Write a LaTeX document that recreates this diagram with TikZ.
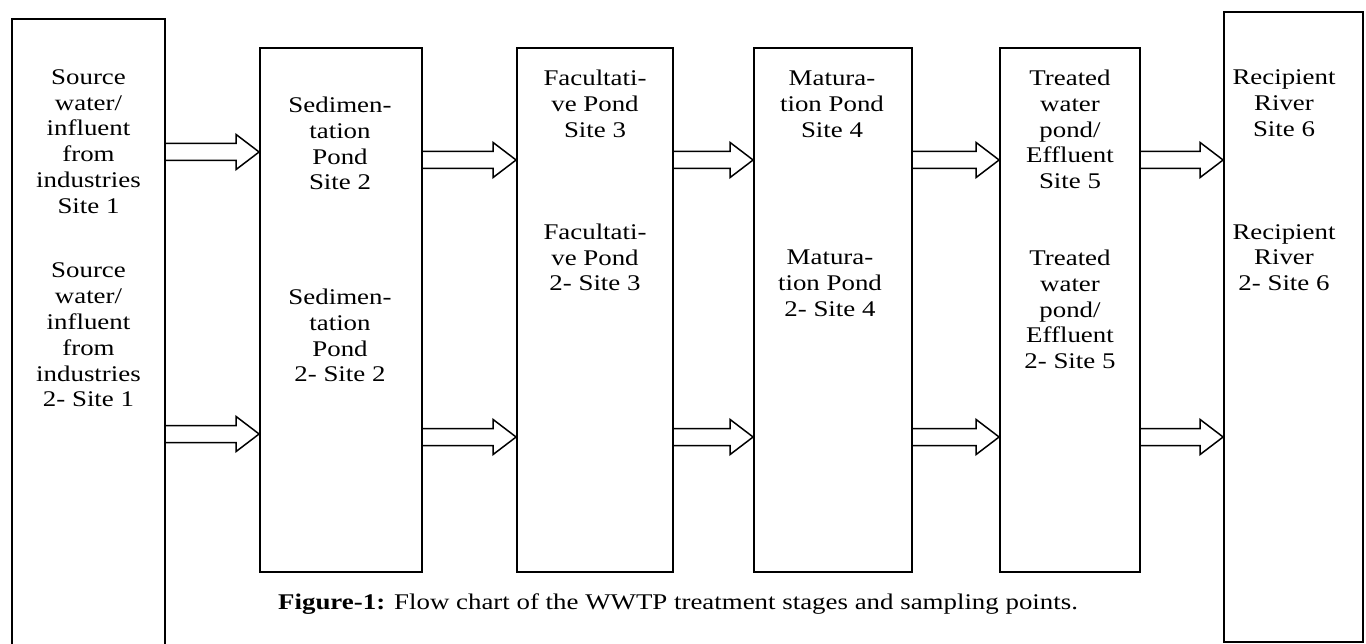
\documentclass[tikz,border=0pt]{standalone}
\usepackage{fontspec}
\setmainfont{Liberation Serif}[FakeStretch=1.2]
\usetikzlibrary{calc}

\tikzset{
  stage/.style={draw, line width=1.8pt, rectangle, inner sep=0pt},
  sitetext/.style={align=center, font=\fontsize{22.4}{25.8}\selectfont, inner sep=0pt},
  flow/.style={draw, line width=1.5pt, line join=miter},
}

% hollow block arrow from box #1 to box #2 at height #3
\newcommand{\flowarrow}[3]{%
  \coordinate (fa) at (#1.east |- 0,#3);
  \coordinate (fb) at (#2.west |- 0,#3);
  \draw[flow] ($(fa)+(0,-8.5)$) -- ($(fb)+(-23,-8.5)$) -- ($(fb)+(-23,-17.5)$) -- (fb)
    -- ($(fb)+(-23,17.5)$) -- ($(fb)+(-23,8.5)$) -- ($(fa)+(0,8.5)$);
}

\begin{document}
\begin{tikzpicture}[x=1pt, y=-1pt]
\useasboundingbox (0,0) rectangle (1366,644);
\clip (0,0) rectangle (1366,644);

% stages
\node[stage, minimum width=153, minimum height=641] (src) at (88.5,339.5) {};
\node[stage, minimum width=162, minimum height=524] (sed) at (341,310) {};
\node[stage, minimum width=156, minimum height=524] (fac) at (595,310) {};
\node[stage, minimum width=158, minimum height=524] (mat) at (833,310) {};
\node[stage, minimum width=140, minimum height=524] (trt) at (1070,310) {};
\node[stage, minimum width=139, minimum height=630] (riv) at (1293.5,327) {};

% sampling sites
\node[sitetext] (src1) at (88.5,141.5) {Source\\water/\\influent\\from\\industries\\Site 1};
\node[sitetext] (src2) at (88.5,335) {Source\\water/\\influent\\from\\industries\\2- Site 1};
\node[sitetext] (sed1) at (340,143.5) {Sedimen-\\tation\\Pond\\Site 2};
\node[sitetext] (sed2) at (340,335.5) {Sedimen-\\tation\\Pond\\2- Site 2};
\node[sitetext] (fac1) at (595,104) {Facultati-\\ve Pond\\Site 3};
\node[sitetext] (fac2) at (595,257.5) {Facultati-\\ve Pond\\2- Site 3};
\node[sitetext] (mat1) at (832,104) {Matura-\\tion Pond\\Site 4};
\node[sitetext] (mat2) at (830,283.5) {Matura-\\tion Pond\\2- Site 4};
\node[sitetext] (trt1) at (1070,129.5) {Treated\\water\\pond/\\Effluent\\Site 5};
\node[sitetext] (trt2) at (1070,309.5) {Treated\\water\\pond/\\Effluent\\2- Site 5};
\node[sitetext] (riv1) at (1284,103) {Recipient\\River\\Site 6};
\node[sitetext] (riv2) at (1284,257.5) {Recipient\\River\\2- Site 6};

% flows
\flowarrow{src}{sed}{152}
\flowarrow{src}{sed}{434}
\flowarrow{sed}{fac}{160}
\flowarrow{sed}{fac}{437}
\flowarrow{fac}{mat}{160}
\flowarrow{fac}{mat}{437}
\flowarrow{mat}{trt}{160}
\flowarrow{mat}{trt}{437}
\flowarrow{trt}{riv}{160}
\flowarrow{trt}{riv}{437}

\node[anchor=west, font=\fontsize{22.4}{26}\selectfont, inner sep=0pt] (cap) at (278,604)
  {\textbf{Figure-1:} Flow chart of the WWTP treatment stages and sampling points.};
\end{tikzpicture}
\end{document}
